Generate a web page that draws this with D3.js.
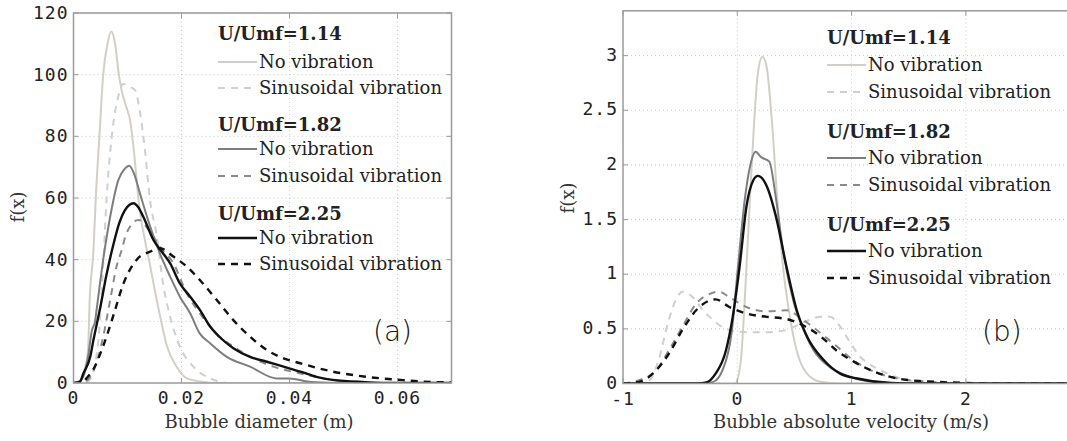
<!DOCTYPE html>
<html><head><meta charset="utf-8">
<script src="https://cdn.jsdelivr.net/npm/d3@7"></script>
<style>
html,body{margin:0;padding:0;background:#fff;overflow:hidden}
svg{display:block}
</style></head>
<body>
<svg id="chart" width="1067" height="441"></svg>
<script>
// ---------- Panel (a): bubble diameter PDFs ----------
const diamTicks = [0, 0.02, 0.04, 0.06];
const diamTickLabels = ["0", "0.02", "0.04", "0.06"];
const fxTicksA = [0, 20, 40, 60, 80, 100, 120];
const fxTickLabelsA = ["0", "20", "40", "60", "80", "100", "120"];

const d114NoVib = [[0,0],[0.001,0.3],[0.002,4],[0.0027,11],[0.003,27],[0.0037,43],[0.0041,59],[0.0048,80],[0.0055,100],[0.0063,110],[0.007,114],[0.0077,110],[0.0084,100],[0.0089,95],[0.0097,90],[0.0105,85],[0.0112,75],[0.012,60],[0.0142,38],[0.016,22],[0.0173,12],[0.0191,5.3],[0.021,1.5],[0.0234,0.5],[0.027,0],[0.07,0]];
const d114Sin = [[0,0],[0.002,0],[0.003,1],[0.0045,12],[0.0055,38],[0.0061,59],[0.0068,75],[0.0077,88],[0.0083,93],[0.0092,97],[0.0105,96],[0.0114,95],[0.0123,88],[0.0132,76],[0.0142,59],[0.0154,48],[0.0166,32],[0.0179,21.5],[0.0197,11.8],[0.0222,5.3],[0.0253,1.5],[0.029,0],[0.07,0]];
const d182NoVib = [[0,0],[0.001,0.5],[0.0018,2],[0.0027,8.5],[0.0034,17],[0.004,20],[0.0043,24],[0.0055,40],[0.0068,54],[0.0083,65.8],[0.0095,69.5],[0.0103,70.5],[0.0112,68],[0.0123,61.5],[0.0142,50.7],[0.016,42],[0.0179,34.5],[0.0197,28],[0.0216,22.6],[0.0234,16],[0.0253,12.9],[0.0284,8.5],[0.0327,5.3],[0.0376,1.5],[0.04,1.5],[0.044,0.3],[0.05,0],[0.07,0]];
const d182Sin = [[0,0],[0.0015,0],[0.0031,2],[0.0045,8],[0.0055,15],[0.0068,27],[0.008,38],[0.0089,43],[0.0098,48.5],[0.012,52.9],[0.0142,49],[0.016,44.2],[0.0185,38.8],[0.021,29],[0.0234,22.6],[0.0265,16],[0.0296,11.8],[0.0333,8],[0.037,5.3],[0.042,3.1],[0.048,1],[0.054,0],[0.07,0]];
const d225NoVib = [[0,0],[0.0012,0.4],[0.0018,3],[0.0031,8.5],[0.0037,14],[0.0049,24],[0.0061,35],[0.0074,45],[0.0085,52],[0.0095,56],[0.0111,58.3],[0.012,57],[0.0129,54],[0.0148,46.4],[0.0166,42],[0.0179,38.8],[0.0197,32.3],[0.0216,28],[0.0234,23.7],[0.0253,18.3],[0.027,15],[0.0296,11.3],[0.0327,8.5],[0.0358,6.9],[0.0389,5.3],[0.042,3.7],[0.045,2],[0.048,1],[0.054,0.3],[0.06,0],[0.07,0]];
const d225Sin = [[0,0],[0.0015,0],[0.0024,1.5],[0.0037,4.5],[0.0055,12],[0.0074,22],[0.0092,32],[0.0117,40],[0.0142,42.6],[0.016,43.7],[0.0185,41],[0.021,37.7],[0.0234,33.4],[0.0265,27],[0.0296,20.4],[0.0327,15],[0.0358,10.7],[0.0389,8],[0.042,6.4],[0.048,3.7],[0.0543,2],[0.0605,1],[0.0666,0.3],[0.07,0.2]];

// ---------- Panel (b): bubble absolute velocity PDFs ----------
const velTicks = [-1, 0, 1, 2];
const velTickLabels = ["-1", "0", "1", "2"];
const fxTicksB = [0, 0.5, 1, 1.5, 2, 2.5, 3];
const fxTickLabelsB = ["0", "0.5", "1", "1.5", "2", "2.5", "3"];

const v114NoVib = [[-1,0],[-0.02,0],[0.03,0.2],[0.065,0.76],[0.11,1.68],[0.15,2.44],[0.18,2.84],[0.22,2.99],[0.256,2.9],[0.3,2.44],[0.35,1.68],[0.4,1.07],[0.46,0.61],[0.52,0.3],[0.61,0.09],[0.73,0.015],[0.9,0],[3,0]];
const v114Sin = [[-1,0],[-0.77,0.03],[-0.69,0.21],[-0.6,0.58],[-0.54,0.76],[-0.48,0.84],[-0.39,0.79],[-0.3,0.67],[-0.21,0.58],[-0.1,0.5],[0.08,0.47],[0.26,0.47],[0.43,0.49],[0.58,0.56],[0.73,0.61],[0.81,0.61],[0.9,0.52],[0.99,0.37],[1.08,0.24],[1.2,0.15],[1.34,0.08],[1.49,0.03],[1.79,0],[3,0]];
const v182NoVib = [[-1,0],[-0.3,0],[-0.21,0.015],[-0.13,0.12],[-0.05,0.46],[0.006,1.07],[0.065,1.68],[0.11,1.98],[0.16,2.12],[0.21,2.07],[0.28,2.03],[0.34,1.68],[0.4,1.22],[0.49,0.76],[0.58,0.49],[0.67,0.3],[0.81,0.15],[0.99,0.06],[1.2,0.015],[1.5,0],[3,0]];
const v182Sin = [[-1,0],[-0.86,0.03],[-0.71,0.12],[-0.6,0.3],[-0.48,0.52],[-0.36,0.73],[-0.24,0.82],[-0.16,0.84],[-0.07,0.79],[0.08,0.7],[0.26,0.66],[0.43,0.67],[0.58,0.58],[0.73,0.46],[0.87,0.34],[1.02,0.21],[1.17,0.12],[1.34,0.06],[1.64,0.02],[2.08,0],[3,0]];
const v225NoVib = [[-1,0],[-0.35,0],[-0.27,0.01],[-0.19,0.09],[-0.1,0.3],[-0.04,0.61],[0.02,1.07],[0.08,1.62],[0.14,1.86],[0.18,1.9],[0.26,1.8],[0.34,1.52],[0.43,1.07],[0.52,0.67],[0.61,0.43],[0.76,0.21],[0.9,0.09],[1.05,0.046],[1.34,0.005],[1.6,0],[3,0]];
const v225Sin = [[-1,0],[-0.86,0.015],[-0.71,0.12],[-0.6,0.27],[-0.48,0.49],[-0.36,0.67],[-0.24,0.76],[-0.19,0.77],[-0.07,0.7],[0.08,0.64],[0.26,0.61],[0.43,0.59],[0.58,0.53],[0.73,0.43],[0.87,0.3],[1.02,0.2],[1.17,0.12],[1.34,0.06],[1.64,0.02],[2.37,0],[3,0]];

const groupLabels = ["U/Umf=1.14", "U/Umf=1.82", "U/Umf=2.25"];
const caseLabels = ["No vibration", "Sinusoidal vibration"];

// ---------- styles ----------
const styles = [
  {color:"#d3cfc8", width:2, dash:null},   // 1.14 no vib
  {color:"#cfcfcf", width:2, dash:"7,6"},  // 1.14 sin
  {color:"#7d7d7d", width:2, dash:null},   // 1.82 no vib
  {color:"#8a8a8a", width:2, dash:"7,6"},  // 1.82 sin
  {color:"#111111", width:2.4, dash:null}, // 2.25 no vib
  {color:"#111111", width:2.4, dash:"7,6"} // 2.25 sin
];

const svg = d3.select("#chart");
const monoFont = "'DejaVu Sans Mono', monospace";
const serifFont = "'DejaVu Serif', serif";

function panel(cfg) {
  const x = d3.scaleLinear().domain(cfg.xDomain).range(cfg.xRange);
  const y = d3.scaleLinear().domain(cfg.yDomain).range(cfg.yRange);
  const g = svg.append("g");
  const clipId = "clip" + cfg.id;
  svg.append("clipPath").attr("id", clipId).append("rect")
    .attr("x", cfg.xRange[0]).attr("y", cfg.yRange[1])
    .attr("width", cfg.xRange[1]-cfg.xRange[0]).attr("height", cfg.yRange[0]-cfg.yRange[1]);

  // grid
  g.selectAll(".vg").data(cfg.xTicks.slice(1)).join("line")
    .attr("x1", d=>x(d)).attr("x2", d=>x(d)).attr("y1", cfg.yRange[0]).attr("y2", cfg.yRange[1])
    .attr("stroke", "#c8c8c8").attr("stroke-width", 1).attr("stroke-dasharray", "1,3");
  g.selectAll(".hg").data(cfg.yTicks.slice(1)).join("line")
    .attr("x1", cfg.xRange[0]).attr("x2", cfg.xRange[1]).attr("y1", d=>y(d)).attr("y2", d=>y(d))
    .attr("stroke", "#c8c8c8").attr("stroke-width", 1).attr("stroke-dasharray", "1,3");

  // curves
  const line = d3.line().x(d=>x(d[0])).y(d=>y(d[1])).curve(d3.curveMonotoneX);
  const cg = g.append("g").attr("clip-path", `url(#${clipId})`);
  cfg.series.forEach((s, i) => {
    const st = styles[i];
    cg.append("path").datum(s).attr("d", line).attr("fill", "none")
      .attr("stroke", st.color).attr("stroke-width", st.width)
      .attr("stroke-dasharray", st.dash).attr("stroke-linejoin", "round");
  });

  // frame
  g.append("rect").attr("x", cfg.xRange[0]).attr("y", cfg.yRange[1])
    .attr("width", cfg.xRange[1]-cfg.xRange[0]).attr("height", cfg.yRange[0]-cfg.yRange[1])
    .attr("fill", "none").attr("stroke", "#9a9a9a").attr("stroke-width", 1.5);

  // tick marks (inward)
  cfg.xTicks.forEach(t => {
    g.append("line").attr("x1", x(t)).attr("x2", x(t)).attr("y1", cfg.yRange[0]).attr("y2", cfg.yRange[0]-5).attr("stroke", "#9a9a9a");
    g.append("line").attr("x1", x(t)).attr("x2", x(t)).attr("y1", cfg.yRange[1]).attr("y2", cfg.yRange[1]+5).attr("stroke", "#9a9a9a");
  });
  cfg.yTicks.forEach(t => {
    g.append("line").attr("x1", cfg.xRange[0]).attr("x2", cfg.xRange[0]+5).attr("y1", y(t)).attr("y2", y(t)).attr("stroke", "#9a9a9a");
    g.append("line").attr("x1", cfg.xRange[1]).attr("x2", cfg.xRange[1]-5).attr("y1", y(t)).attr("y2", y(t)).attr("stroke", "#9a9a9a");
  });

  // tick labels
  g.selectAll(".xl").data(cfg.xTicks).join("text")
    .attr("x", d=>x(d)).attr("y", cfg.yRange[0]+cfg.xLabDy).attr("text-anchor", "middle")
    .attr("font-family", monoFont).attr("font-size", 18).attr("letter-spacing", 1).attr("fill", "#222")
    .text((d,i)=>cfg.xTickLabels[i]);
  g.selectAll(".yl").data(cfg.yTicks).join("text")
    .attr("x", cfg.xRange[0]-5).attr("y", d=>y(d)+cfg.yLabDy).attr("text-anchor", "end")
    .attr("font-family", monoFont).attr("font-size", 18).attr("letter-spacing", 1).attr("fill", "#222")
    .text((d,i)=>cfg.yTickLabels[i]);

  // axis titles
  g.append("text").attr("x", cfg.xTitleX).attr("y", 428).attr("text-anchor", "middle")
    .attr("font-family", serifFont).attr("font-size", 18).attr("fill", "#333").text(cfg.xTitle);
  g.append("text").attr("transform", `translate(${cfg.yTitleX},${cfg.yTitleY}) rotate(-90)`)
    .attr("text-anchor", "middle").attr("font-family", serifFont).attr("font-size", 18).attr("fill", "#333").text("f(x)");

  // legend
  const L = cfg.legend;
  groupLabels.forEach((lab, gi) => {
    g.append("text").attr("x", L.x).attr("y", L.headY[gi]).attr("font-family", serifFont)
      .attr("font-weight", "bold").attr("font-size", 18).attr("fill", "#222").text(lab);
    caseLabels.forEach((c, ci) => {
      const st = styles[gi*2+ci];
      const ty = L.rowY[gi][ci];
      g.append("line").attr("x1", L.x).attr("x2", L.x+L.lineLen).attr("y1", ty-6).attr("y2", ty-6)
        .attr("stroke", st.color).attr("stroke-width", st.width).attr("stroke-dasharray", st.dash);
      g.append("text").attr("x", L.x+L.lineLen+2).attr("y", ty).attr("font-family", serifFont)
        .attr("font-size", 18).attr("fill", "#222").text(c);
    });
  });

  // panel tag
  g.append("text").attr("x", cfg.tagX).attr("y", 341).attr("font-family", "'DejaVu Sans', sans-serif")
    .attr("font-weight", 200).attr("font-size", 28).attr("fill", "#111").text(cfg.tag);
}

panel({
  id: "a",
  xDomain: [0, 0.07], xRange: [73.5, 451.5],
  yDomain: [0, 120], yRange: [383, 13],
  xTicks: diamTicks, xTickLabels: diamTickLabels,
  yTicks: fxTicksA, yTickLabels: fxTickLabelsA, xLabDy: 21, yLabDy: 6,
  series: [d114NoVib, d114Sin, d182NoVib, d182Sin, d225NoVib, d225Sin],
  xTitle: "Bubble diameter (m)", xTitleX: 259,
  yTitleX: 24, yTitleY: 207,
  legend: {x: 218, lineLen: 39, headY: [40, 131, 220], rowY: [[68, 94],[155, 182],[244, 270]]},
  tag: "(a)", tagX: 373
});

panel({
  id: "b",
  xDomain: [-1, 3], xRange: [623, 1080.2],
  yDomain: [0, 3.41], yRange: [383.5, 10.8],
  xTicks: velTicks, xTickLabels: velTickLabels,
  yTicks: fxTicksB, yTickLabels: fxTickLabelsB, xLabDy: 21, yLabDy: 5,
  series: [v114NoVib, v114Sin, v182NoVib, v182Sin, v225NoVib, v225Sin],
  xTitle: "Bubble absolute velocity (m/s)", xTitleX: 851,
  yTitleX: 574, yTitleY: 198,
  legend: {x: 827, lineLen: 39, headY: [44, 138, 231], rowY: [[71, 98],[164, 191],[257, 284]]},
  tag: "(b)", tagX: 982
});
</script>
</body></html>
